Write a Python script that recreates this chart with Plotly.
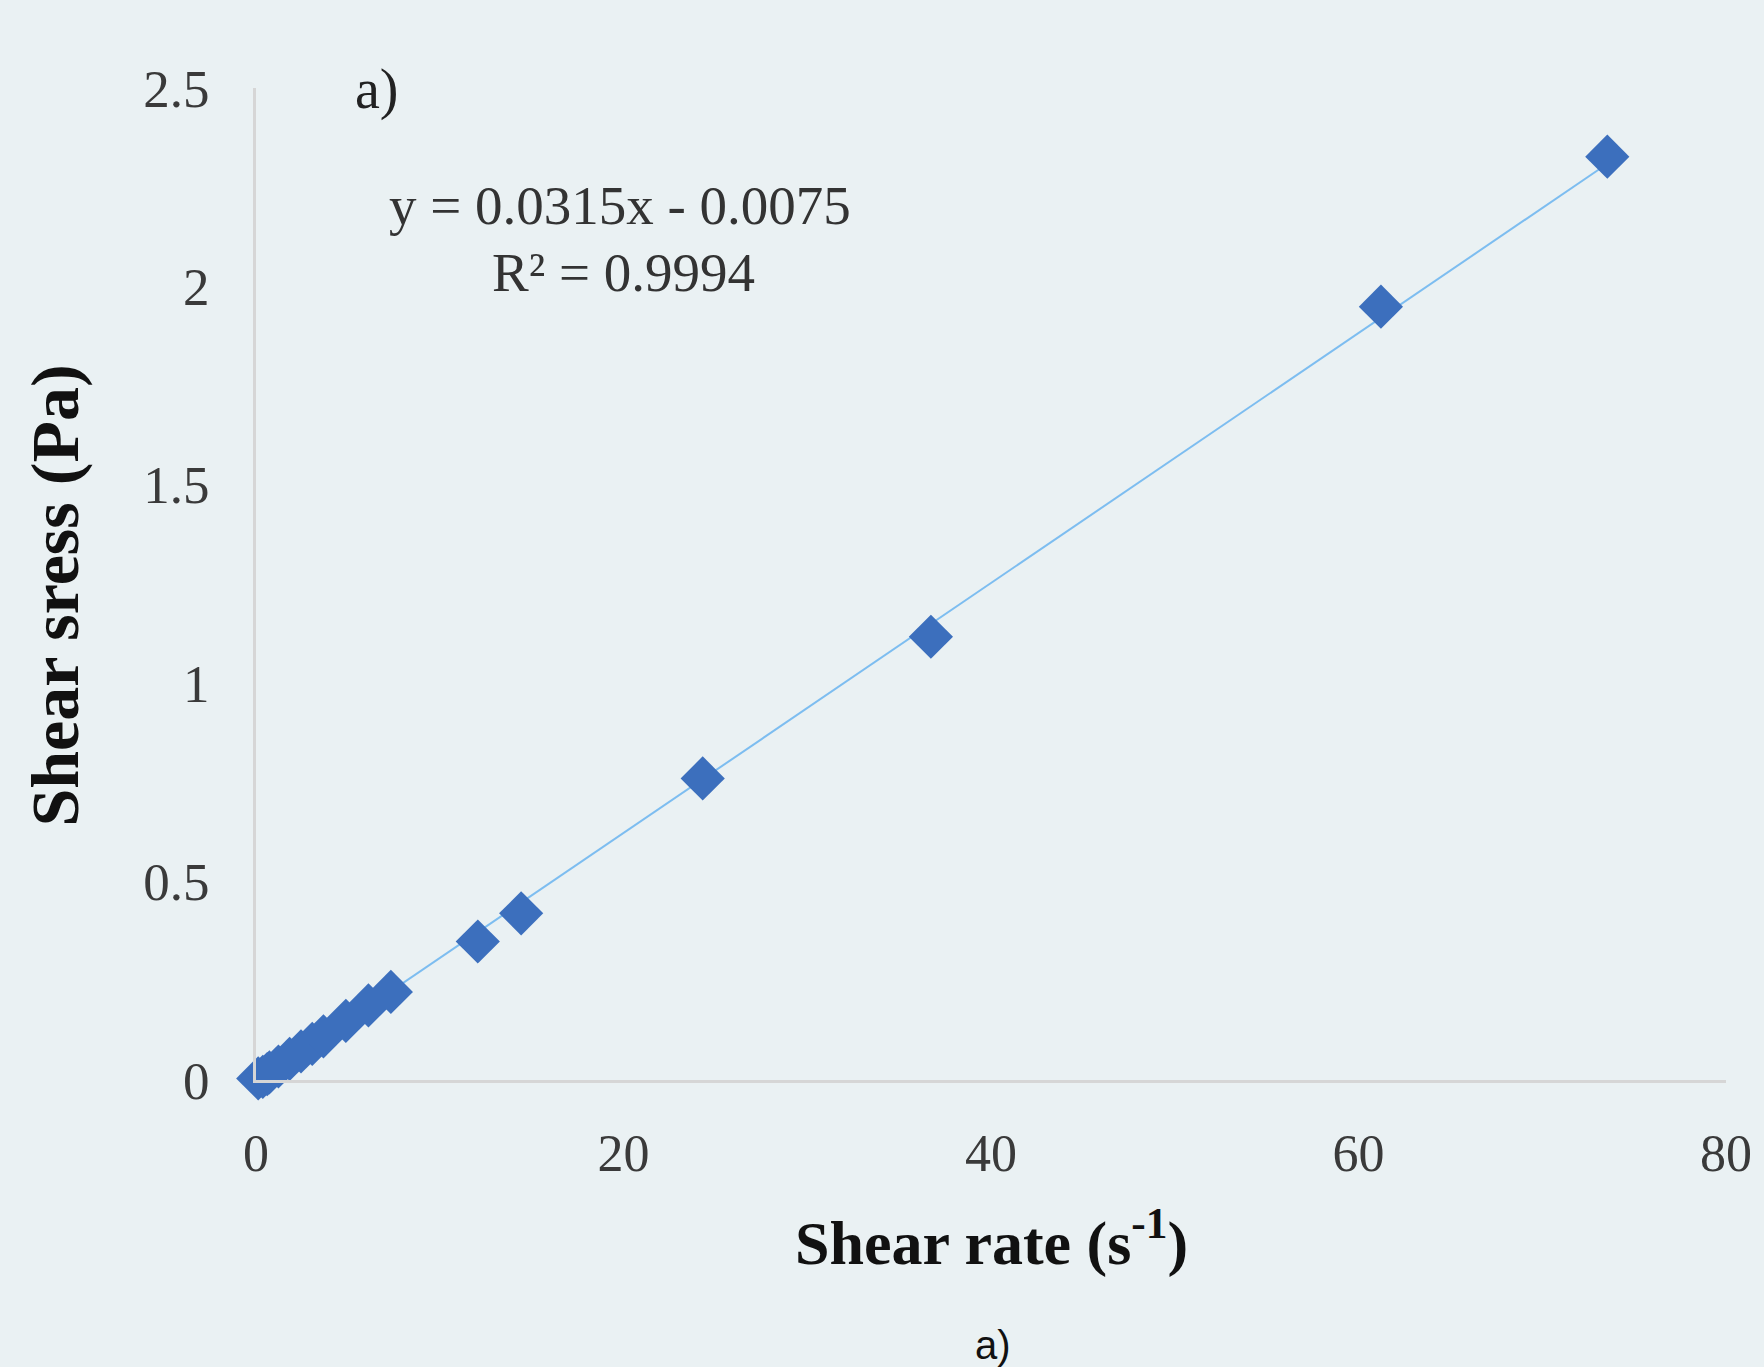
import plotly.graph_objects as go

# Data
shear_rate = [0.12, 0.37, 0.61, 0.73, 1.22, 1.83, 2.45, 3.06, 3.67, 4.89, 6.12, 7.34,
              12.07, 14.43, 24.31, 36.73, 61.22, 73.54]
shear_stress = [0.004, 0.008, 0.015, 0.019, 0.034, 0.053, 0.072, 0.091, 0.110, 0.149,
                0.188, 0.222, 0.349, 0.420, 0.760, 1.117, 1.949, 2.327]

slope = 0.0315
intercept = -0.0075
r_squared = 0.9994

x_ticks = [0, 20, 40, 60, 80]
y_ticks = [0, 0.5, 1, 1.5, 2, 2.5]
y_tick_text = ["0", "0.5", "1", "1.5", "2", "2.5"]

BG = "#eaf1f3"
SERIF = "Liberation Serif, Times New Roman, serif"

trend_x = [min(shear_rate), max(shear_rate)]
trend_y = [slope * v + intercept for v in trend_x]

fig = go.Figure()
fig.add_trace(go.Scatter(
    x=trend_x, y=trend_y, mode="lines",
    line=dict(color="#7dbdf0", width=2),
    hoverinfo="skip", showlegend=False, cliponaxis=False,
))
fig.add_trace(go.Scatter(
    x=shear_rate, y=shear_stress, mode="markers",
    marker=dict(symbol="diamond", size=34, color="#3c6fbd", line=dict(width=0)),
    showlegend=False, cliponaxis=False,
))

fig.update_layout(
    width=1764, height=1367,
    paper_bgcolor=BG, plot_bgcolor=BG,
    margin=dict(l=256, r=34, t=88, b=287),
    font=dict(family=SERIF, color="#333333"),
    xaxis=dict(
        range=[0, 80], tickvals=x_ticks, showgrid=False, zeroline=False,
        showline=True, linecolor="#d6d6d6", linewidth=3,
        ticks="", ticklabelstandoff=26,
        tickfont=dict(family=SERIF, size=52, color="#3a3a3a"),
    ),
    yaxis=dict(
        range=[0, 2.5], tickvals=y_ticks, ticktext=y_tick_text,
        showgrid=False, zeroline=False,
        showline=True, linecolor="#d6d6d6", linewidth=3,
        ticks="", ticklabelstandoff=33,
        tickfont=dict(family=SERIF, size=53, color="#3a3a3a"),
    ),
    annotations=[
        dict(text="<b>Shear rate (s<sup>-1</sup>)</b>", xref="paper", yref="paper",
             x=0.5, y=-0.16, xanchor="center", yanchor="middle", showarrow=False,
             font=dict(family=SERIF, size=62, color="#111111")),
        dict(text="<b>Shear sress (Pa)</b>", xref="paper", yref="paper",
             x=-0.137, y=0.488, xanchor="center", yanchor="middle", showarrow=False,
             textangle=-90, font=dict(family=SERIF, size=68, color="#111111")),
        dict(text=f"y = {slope}x - {abs(intercept)}", xref="paper", yref="paper",
             x=0.2476, y=0.882, xanchor="center", yanchor="middle", showarrow=False,
             font=dict(family=SERIF, size=55, color="#333333")),
        dict(text=f"R² = {r_squared}", xref="paper", yref="paper",
             x=0.2497, y=0.8145, xanchor="center", yanchor="middle", showarrow=False,
             font=dict(family=SERIF, size=55, color="#333333")),
        dict(text="a)", xref="paper", yref="paper",
             x=0.082, y=0.998, xanchor="center", yanchor="middle", showarrow=False,
             font=dict(family=SERIF, size=56, color="#222222")),
        dict(text="a)", xref="paper", yref="paper",
             x=0.5015, y=-0.267, xanchor="center", yanchor="middle", showarrow=False,
             font=dict(family="Liberation Sans, Arial, sans-serif", size=40, color="#111111")),
    ],
)

fig.write_html(
    "out.html",
    config={"displayModeBar": False},
    post_script="document.body.style.margin='0';document.body.style.overflow='hidden';",
)
